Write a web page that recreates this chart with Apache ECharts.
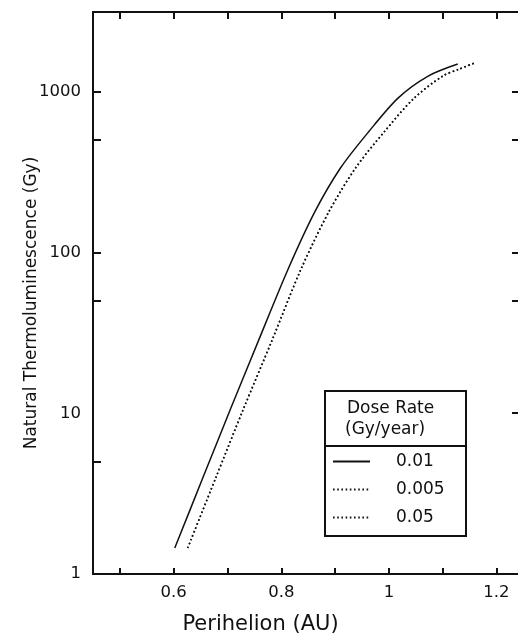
<!DOCTYPE html>
<html><head><meta charset="utf-8">
<script src="https://cdn.jsdelivr.net/npm/echarts@6/dist/echarts.min.js"></script>
<style>html,body{margin:0;padding:0;background:#fff}#c{width:518px;height:642px}</style>
</head><body><div id="c"></div>
<script>
// ---- data ----
const seriesNames = ['0.01', '0.005', '0.05'];
const perihelion001 = [0.602, 0.654, 0.705, 0.758, 0.812, 0.862, 0.910, 0.962, 1.017, 1.073, 1.128];
const tl001 = [1.45, 3.95, 10.5, 28.5, 77.8, 178, 335, 561, 912, 1250, 1485];
const perihelion0005 = [0.626, 0.678, 0.729, 0.783, 0.836, 0.888, 0.938, 0.991, 1.047, 1.100, 1.131, 1.159];
const tl0005 = [1.45, 3.95, 10.5, 28.5, 77.8, 178, 335, 561, 912, 1250, 1383, 1506];
const perihelion005 = [0.626, 0.678, 0.729, 0.783, 0.836, 0.888, 0.938, 0.991, 1.047, 1.100, 1.131, 1.159];
const tl005 = [1.45, 3.95, 10.5, 28.5, 77.8, 178, 335, 561, 912, 1250, 1383, 1506];

const xTickValues = [0.5, 0.6, 0.7, 0.8, 0.9, 1.0, 1.1, 1.2];
const xLabelValues = [0.6, 0.8, 1, 1.2];
const yLabelValues = [1, 10, 100, 1000];
const yTickValuesLeft = [5, 50, 100, 500, 1000];
const yTickValuesRight = [10, 50, 100, 500, 1000];
const xAxisTitle = 'Perihelion (AU)';
const yAxisTitle = 'Natural Thermoluminescence (Gy)';
const legendTitle = ['Dose Rate', '(Gy/year)'];

// ---- chart ----
const FONT = 'DejaVu Sans';
const INK = '#111';
const zip = (xs, ys) => xs.map((x, i) => [x, ys[i]]);

const chart = echarts.init(document.getElementById('c'), null, {renderer: 'canvas'});
const axisLine = {show: true, lineStyle: {color: INK, width: 2}};

chart.setOption({
  backgroundColor: '#fff',
  animation: false,
  textStyle: {fontFamily: FONT, color: INK},
  grid: {left: 93, top: 12, right: -3, bottom: 68, containLabel: false},
  xAxis: [{
    type: 'value', position: 'bottom', min: 0.45, max: 1.24,
    axisLine: axisLine, splitLine: {show: false},
    axisTick: {show: true, inside: true, length: 6, lineStyle: {color: INK, width: 2}, customValues: xTickValues},
    axisLabel: {fontFamily: FONT, fontSize: 16.5, color: INK, margin: 10, customValues: xLabelValues, formatter: v => String(v)},
    name: xAxisTitle, nameLocation: 'middle', nameGap: 40,
    nameTextStyle: {fontFamily: FONT, fontSize: 21, color: INK, padding: [0, 90, 0, 0]}
  }, {
    type: 'value', position: 'top', min: 0.45, max: 1.24,
    axisLine: axisLine, splitLine: {show: false},
    axisTick: {show: true, inside: true, length: 7, lineStyle: {color: INK, width: 2}, customValues: xTickValues},
    axisLabel: {show: false}
  }],
  yAxis: [{
    type: 'log', logBase: 10, position: 'left', min: 1, max: 3130,
    axisLine: axisLine, splitLine: {show: false}, minorTick: {show: false},
    axisTick: {show: true, inside: true, length: 8, lineStyle: {color: INK, width: 2}, customValues: yTickValuesLeft},
    axisLabel: {fontFamily: FONT, fontSize: 16.5, color: INK, margin: 12, customValues: yLabelValues, formatter: v => String(v)},
    name: yAxisTitle, nameLocation: 'middle', nameGap: 53, nameRotate: 90, nameMoveOverlap: false,
    nameTextStyle: {fontFamily: FONT, fontSize: 17, color: INK, padding: [0, 20, 0, 0]}
  }, {
    type: 'log', logBase: 10, position: 'right', min: 1, max: 3130,
    axisLine: {show: false}, splitLine: {show: false},
    axisTick: {show: true, inside: true, length: 6, lineStyle: {color: INK, width: 2}, customValues: yTickValuesRight},
    axisLabel: {show: false}
  }],
  legend: {
    show: true, orient: 'vertical', left: 332, top: 453, padding: 0,
    itemWidth: 37, itemHeight: 14, itemGap: 11,
    data: seriesNames,
    itemStyle: {opacity: 0},
    textStyle: {fontFamily: FONT, fontSize: 17, color: INK, padding: [0, 0, 0, 21]},
    selectedMode: false
  },
  series: [{
    name: seriesNames[0], type: 'line', data: zip(perihelion001, tl001),
    symbol: 'none', smooth: 0.3, lineStyle: {color: INK, width: 1.5, type: 'solid'}, itemStyle: {color: INK}, z: 3
  }, {
    name: seriesNames[1], type: 'line', data: zip(perihelion0005, tl0005),
    symbol: 'none', smooth: 0.3, lineStyle: {color: INK, width: 1.6, type: [1.6, 2.6]}, itemStyle: {color: INK}
  }, {
    name: seriesNames[2], type: 'line', data: zip(perihelion005, tl005),
    symbol: 'none', smooth: 0.3, lineStyle: {color: INK, width: 1.6, type: [1.6, 2.6]}, itemStyle: {color: INK}
  }],
  graphic: [{
    type: 'rect', shape: {x: 325, y: 391, width: 141, height: 145},
    style: {fill: '#fff', stroke: INK, lineWidth: 2}, z: 1, silent: true
  }, {
    type: 'line', shape: {x1: 325, y1: 446, x2: 466, y2: 446},
    style: {stroke: INK, lineWidth: 2}, z: 2, silent: true
  }, {
    type: 'text', left: 347, top: 400, z: 2, silent: true,
    style: {text: legendTitle[0], fontFamily: FONT, fontSize: 17, fill: INK}
  }, {
    type: 'text', left: 345, top: 421, z: 2, silent: true,
    style: {text: legendTitle[1], fontFamily: FONT, fontSize: 17, fill: INK}
  }]
});
</script></body></html>
